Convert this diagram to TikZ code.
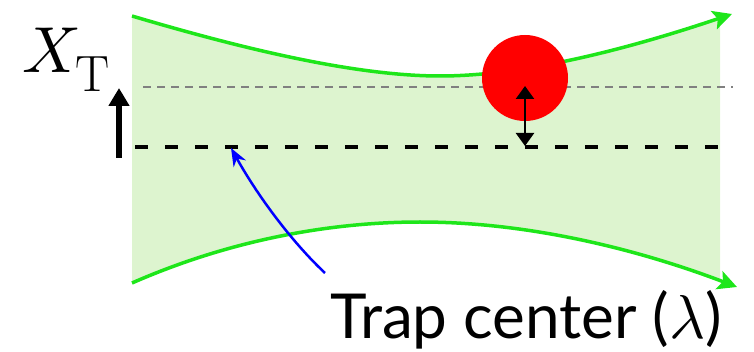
\documentclass[tikz,border=0pt]{standalone}
\usepackage{fontspec}
\usepackage{unicode-math}
\setmathfont{Latin Modern Math}
\setsansfont{Lato}
\usetikzlibrary{arrows.meta}
\definecolor{beamfill}{HTML}{DDF4CF}
\definecolor{beamline}{HTML}{1EE61A}
\begin{document}
\begin{tikzpicture}[x=1pt,y=-1pt,
  edge/.style={draw=beamline,line width=3.5pt,-{Stealth[length=19pt,width=19pt,inset=4pt]}},
  arr/.style={line width=5.5pt,-{Triangle[length=18pt,width=20pt]}}]
\useasboundingbox (0,0) rectangle (754,352);
% fill
\begin{scope}
\clip (132,0) rectangle (720,352);
\fill[beamfill] (132,16) .. controls (230,45) and (350,76) .. (440,76)
  .. controls (530,76) and (640,45) .. (728,15) -- (733,285)
  .. controls (640,250) and (530,222) .. (420,222)
  .. controls (330,222) and (230,240) .. (132,283) -- cycle;
\end{scope}
% beam edges
\coordinate (tl) at (132,16);
\coordinate (tr) at (732,14);
\coordinate (bl) at (132,283);
\coordinate (br) at (737,287);
\draw[edge] (tl) .. controls (230,45) and (350,76) .. (440,76)
  .. controls (530,76) and (640,45) .. (tr);
\draw[edge] (bl) .. controls (230,240) and (330,222) .. (420,222)
  .. controls (530,222) and (640,250) .. (br);
% gray dashed line
\coordinate (g1) at (143,87);
\coordinate (g2) at (733,87);
\draw[gray,line width=2pt,dash pattern=on 8pt off 6pt] (g1) -- (g2);
% black dashed line
\coordinate (k1) at (135,147);
\coordinate (k2) at (724,147);
\draw[black,line width=4.5pt,dash pattern=on 13pt off 17pt] (k1) -- (k2);
% red ball
\node[circle,fill=red,minimum size=86pt,inner sep=0pt] (ball) at (525,78) {};
% double arrow
\coordinate (d1) at (525,86);
\coordinate (d2) at (525,146);
\draw[line width=2.4pt,{Triangle[length=13pt,width=18pt]}-{Triangle[length=13pt,width=18pt]}] (d1) -- (d2);
% left arrow
\coordinate (a1) at (119,158);
\coordinate (a2) at (119,88);
\draw[arr] (a1) -- (a2);
% label X_T
\node[anchor=base west,inner sep=0pt,font=\fontsize{65}{65}\selectfont] (xt) at (22,73)
  {$X$\hspace{-4pt}\raisebox{-19pt}{\fontsize{51}{51}\selectfont T}};
% trap center
\node[anchor=base west,inner sep=0pt,font=\sffamily\fontsize{62}{64}\selectfont] (tc) at (330,338) {Trap center ($\lambda$)};
% blue arrow
\coordinate (b1) at (325,273);
\coordinate (b2) at (231,148);
\draw[blue,line width=2.5pt,-{Stealth[length=18pt,width=14pt]}] (b1) .. controls (295,245) and (260,200) .. (b2);
\end{tikzpicture}
\end{document}
